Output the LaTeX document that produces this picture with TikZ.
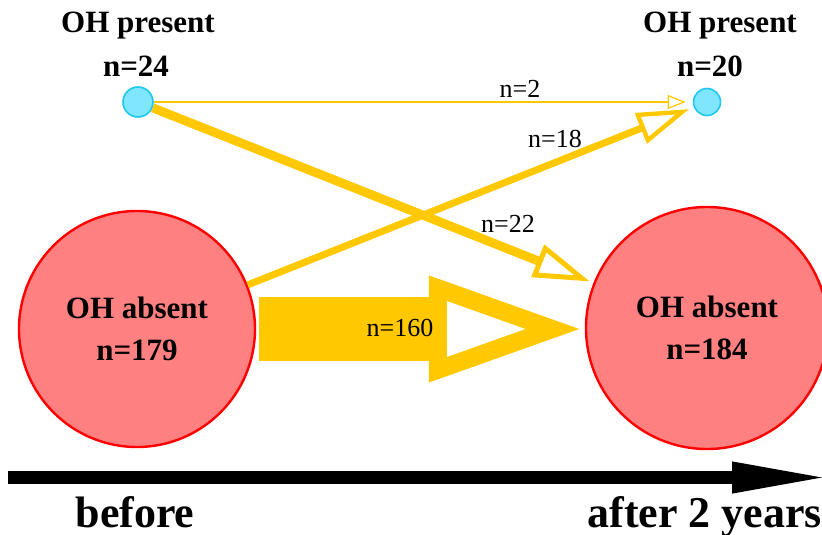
\documentclass[tikz,border=0pt]{standalone}
\usepackage{fontspec}
\setmainfont{Liberation Serif}
\usepackage{tikz}
\usetikzlibrary{arrows.meta, positioning}

\definecolor{flowyellow}{RGB}{255,200,0}
\definecolor{ohcyan}{RGB}{128,229,255}
\definecolor{ohcyanline}{RGB}{30,200,240}
\definecolor{absentred}{RGB}{255,128,128}

\tikzset{
    ohsmall/.style={circle, fill=ohcyan, draw=ohcyanline, line width=0.8pt, inner sep=0pt},
    ohbig/.style={circle, fill=absentred, draw=red, line width=1.2pt, inner sep=0pt, align=center,
        font=\fontsize{15.5}{21}\selectfont\bfseries},
    boldlab/.style={inner sep=0pt, anchor=base, font=\fontsize{15.5}{18}\selectfont\bfseries},
    nlab/.style={inner sep=0pt, anchor=base, font=\fontsize{13}{15}\selectfont},
    timelab/.style={inner sep=0pt, font=\fontsize{22}{26}\selectfont\bfseries},
    flow/.style={draw=flowyellow}
}

\begin{document}
\begin{tikzpicture}[x=0.5pt, y=-0.5pt]
    \useasboundingbox (0,0) rectangle (822,534);

    % State nodes
    \node[ohsmall, minimum size=15pt] (presL) at (138,102) {};
    \node[ohsmall, minimum size=13.5pt] (presR) at (707,102) {};
    \node[ohbig, minimum size=118pt] (absL) at (137,329) {OH absent\\n=179};
    \node[ohbig, minimum size=121pt] (absR) at (707,328) {OH absent\\n=184};

    % Labels
    \node[boldlab] (titleL) at (138,33) {OH present};
    \node[boldlab] (countL) at (136,77) {n=24};
    \node[boldlab] (titleR) at (720,33) {OH present};
    \node[boldlab] (countR) at (710,77) {n=20};

    % Transitions
    \draw[flow, line width=0.8pt, shorten >=3.5pt,
        -{Triangle[open, length=9pt, width=7pt, line width=0.6pt]}] (presL) -- (presR);
    \draw[flow, line width=3.5pt, shorten >=2.5pt,
        -{Triangle[open, length=26pt, width=16pt, line width=2.2pt]}] (absL) -- (presR);
    \draw[flow, line width=4.5pt, shorten >=2pt,
        -{Triangle[open, length=28pt, width=17pt, line width=2.5pt]}] (presL) -- (absR);
    \draw[flow, line width=32pt, shorten <=1.5pt, shorten >=2pt,
        -{Triangle[open, length=76pt, width=51pt, line width=9pt]}] (absL.east) -- (absL.east -| absR.west);

    \node[nlab] (n2) at (520,98) {n=2};
    \node[nlab] (n18) at (555,148) {n=18};
    \node[nlab] (n22) at (508,232) {n=22};
    \node[nlab] (n160) at (400,336) {n=160};

    % Time axis
    \coordinate (t0) at (8,477.5);
    \coordinate (t1) at (832,477.5);
    \draw[line width=6.5pt, -{Triangle[length=50pt, width=14pt]}] (t0) -- (t1);
    \node[timelab, anchor=base] (before) at (135,527) {before};
    \node[timelab, anchor=base west] (after) at (587,527) {after 2 years};
\end{tikzpicture}
\end{document}
